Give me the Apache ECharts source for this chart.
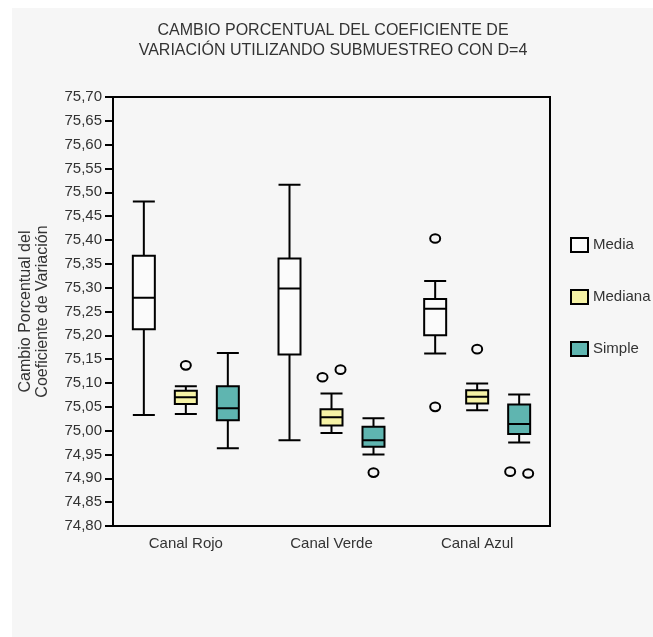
<!DOCTYPE html>
<html>
<head>
<meta charset="utf-8">
<script src="https://cdn.jsdelivr.net/npm/echarts@6/dist/echarts.min.js"></script>
<style>
html,body{margin:0;padding:0;background:#ffffff;}
#chart{width:653px;height:637px;}
</style>
</head>
<body>
<div id="chart"></div>
<script>
// ---- data ----
var categories = ['Canal Rojo', 'Canal Verde', 'Canal Azul'];
var seriesNames = ['Media', 'Mediana', 'Simple'];
var yTickMin = 74.80, yTickMax = 75.70, yTickStep = 0.05;

// [min, Q1, median, Q3, max] per category
var mediaBoxes = [
  [75.033, 75.213, 75.279, 75.367, 75.481],
  [74.980, 75.160, 75.298, 75.361, 75.516],
  [75.162, 75.200, 75.256, 75.276, 75.314]
];
var medianaBoxes = [
  [75.035, 75.056, 75.070, 75.084, 75.093],
  [74.995, 75.011, 75.028, 75.045, 75.078],
  [75.043, 75.057, 75.071, 75.085, 75.099]
];
var simpleBoxes = [
  [74.963, 75.022, 75.047, 75.093, 75.163],
  [74.950, 74.966, 74.980, 75.008, 75.026],
  [74.975, 74.993, 75.014, 75.055, 75.076]
];
// outliers per category
var mediaOutliers = [[], [], [75.403, 75.050]];
var medianaOutliers = [[75.137], [75.112, 75.128], [75.171]];
var simpleOutliers = [[], [74.912], [74.914, 74.910]];

// ---- build chart ----
var FONT = '"Liberation Sans", Arial, sans-serif';
var fills = ['#fbfbfb', '#f6f3a6', '#5fb5b0'];
var boxSets = [mediaBoxes, medianaBoxes, simpleBoxes];
var outSets = [mediaOutliers, medianaOutliers, simpleOutliers];

var outlierData = [];
outSets.forEach(function (set, s) {
  set.forEach(function (vals, c) {
    vals.forEach(function (v, k) {
      // spread near-equal outliers of the same box side by side
      var jitter = 0;
      if (vals.length > 1) {
        var close = vals.some(function (w, j) { return j !== k && Math.abs(w - v) < 0.03; });
        if (close) jitter = (k === 0 ? -1 : 1);
      }
      outlierData.push([c, v, s, jitter]);
    });
  });
});

var series = boxSets.map(function (data, s) {
  return {
    name: seriesNames[s],
    type: 'boxplot',
    data: data,
    boxWidth: [22, 22],
    itemStyle: { color: fills[s], borderColor: '#000', borderWidth: 2 },
    emphasis: { disabled: true }
  };
});

series.push({
  type: 'custom',
  name: 'outliers',
  data: outlierData,
  z: 5,
  renderItem: function (params, api) {
    var c = api.value(0), v = api.value(1), s = api.value(2), j = api.value(3);
    var pt = api.coord([c, v]);
    var bw = api.size([1, 0])[0];
    var avail = bw * 0.8 - 2;
    var gap = avail / 3 * 0.3;
    var w = (avail - gap * 2) / 3;
    var off = (s - 1) * (gap + w);
    return {
      type: 'ellipse',
      shape: { cx: pt[0] + off + j * 9, cy: pt[1], rx: 5, ry: 4.3 },
      style: { fill: 'none', stroke: '#000', lineWidth: 2 }
    };
  }
});

var legendData = seriesNames.map(function (n, i) {
  return { name: n, icon: 'rect', itemStyle: { color: fills[i], borderColor: '#000', borderWidth: 2 } };
});

var chart = echarts.init(document.getElementById('chart'));
chart.setOption({
  animation: false,
  backgroundColor: '#ffffff',
  graphic: {
    elements: [{
      type: 'rect', left: 12, top: 8, z: -100, silent: true,
      shape: { width: 641, height: 629 },
      style: { fill: '#f6f6f6' }
    }]
  },
  title: {
    text: 'CAMBIO PORCENTUAL DEL COEFICIENTE DE\nVARIACIÓN UTILIZANDO SUBMUESTREO CON D=4',
    left: 328, top: 16, textAlign: 'center',
    textStyle: { fontFamily: FONT, fontSize: 16, fontWeight: 'normal', color: '#333', lineHeight: 20 }
  },
  legend: {
    data: legendData,
    orient: 'vertical',
    left: 565, top: 232,
    itemWidth: 17, itemHeight: 14, itemGap: 36, itemTextGap: 7,
    textStyle: { fontFamily: FONT, fontSize: 15, color: '#333' }
  },
  grid: {
    left: 113, right: 103, top: 97, bottom: 111,
    show: true, borderColor: '#000', borderWidth: 2, backgroundColor: 'transparent'
  },
  xAxis: {
    type: 'category',
    data: categories,
    axisLine: { lineStyle: { color: '#000', width: 2 } },
    axisTick: { alignWithLabel: true, length: 6, lineStyle: { color: '#000', width: 2 } },
    axisLabel: { fontFamily: FONT, fontSize: 15, color: '#333', margin: 10 },
    splitLine: { show: false }
  },
  yAxis: {
    type: 'value',
    min: yTickMin, max: yTickMax, interval: yTickStep,
    name: 'Cambio Porcentual del\nCoeficiente de Variación',
    nameLocation: 'middle', nameRotate: 90, nameGap: 62,
    nameTextStyle: { fontFamily: FONT, fontSize: 16, color: '#333', lineHeight: 17 },
    axisLine: { show: true, lineStyle: { color: '#000', width: 2 } },
    axisTick: { show: true, length: 8, lineStyle: { color: '#000', width: 2 } },
    axisLabel: {
      fontFamily: FONT, fontSize: 15, color: '#333', margin: 11,
      formatter: function (v) { return v.toFixed(2).replace('.', ','); }
    },
    splitLine: { show: false }
  },
  series: series
});
</script>
</body>
</html>
